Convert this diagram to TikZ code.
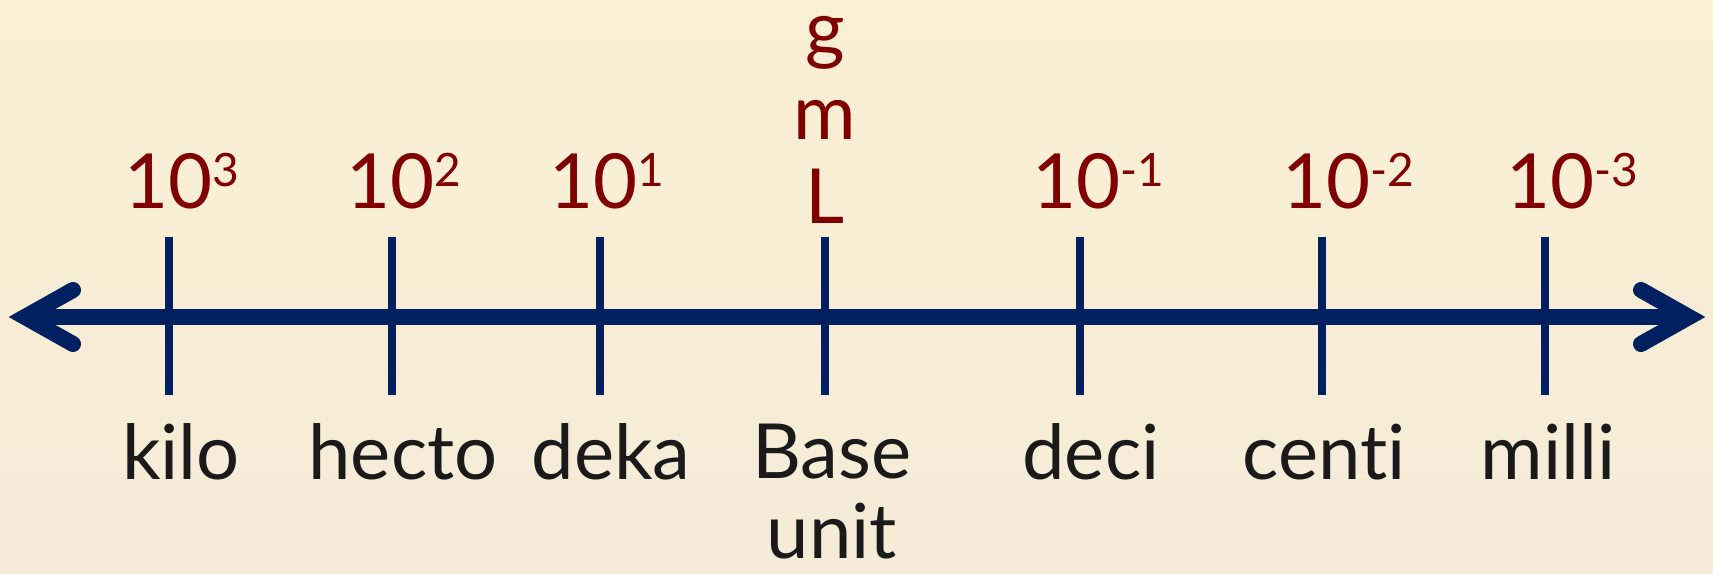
\documentclass[tikz,border=0pt]{standalone}
\usepackage{fontspec}
\setmainfont{Lato}[Ligatures=NoCommon]
\usetikzlibrary{arrows.meta}
\definecolor{navy}{HTML}{002060}
\definecolor{maroon}{HTML}{800000}
\definecolor{ink}{HTML}{1A1A1A}
\definecolor{bgtop}{RGB}{251,239,213}
\definecolor{bgbot}{RGB}{244,236,215}
\newcommand\pw[1]{\raisebox{22pt}{\fontsize{46}{46}\selectfont #1}}
\begin{document}
\begin{tikzpicture}[x=1pt,y=-1pt,
  tickline/.style={draw=navy,line width=8pt},
  axisline/.style={draw=navy,line width=16pt},
  headline/.style={draw=navy,line width=16pt,line cap=round,line join=miter},
  powlabel/.style={text=maroon,font=\fontsize{76}{84}\selectfont,inner sep=0pt},
  preflabel/.style={text=ink,font=\fontsize{76}{80}\selectfont,inner sep=0pt},
]
\shade[top color=bgtop,bottom color=bgbot] (0,0) rectangle (1713,573);
\useasboundingbox (0,0) rectangle (1713,573);
% axis
\coordinate (lv) at (25,317);
\coordinate (rv) at (1689,317);
\coordinate (lu) at (73,290);
\coordinate (ld) at (73,344);
\coordinate (ru) at (1641,290);
\coordinate (rd) at (1641,344);
\draw[axisline] (lv) -- (rv);
\draw[headline] (lu) -- (lv) -- (ld);
\draw[headline] (ru) -- (rv) -- (rd);
% ticks
\foreach \n/\x in {kilo/169,hecto/392,deka/600,base/825,deci/1080,centi/1322,milli/1545}{
  \coordinate (\n-top) at (\x,237);
  \coordinate (\n-bot) at (\x,395);
  \draw[tickline] (\n-top) -- (\n-bot);
}
% powers
\node[powlabel,anchor=base] (p3) at (182,208) {10\pw{3}};
\node[powlabel,anchor=base] (p2) at (404,208) {10\pw{2}};
\node[powlabel,anchor=base] (p1) at (607,208) {10\pw{1}};
\node[powlabel,anchor=south,align=center] (units) at (825,224) {g\\m\\L};
\node[powlabel,anchor=base] (m1) at (1098,208) {10\pw{-1}};
\node[powlabel,anchor=base] (m2) at (1348,208) {10\pw{-2}};
\node[powlabel,anchor=base] (m3) at (1572,208) {10\pw{-3}};
% prefixes
\node[preflabel,anchor=base] (lkilo) at (181,479) {kilo};
\node[preflabel,anchor=base] (lhecto) at (403,479) {hecto};
\node[preflabel,anchor=base] (ldeka) at (611,479) {deka};
\node[preflabel,anchor=south,align=center] (lbase) at (832,559) {Base\\unit};
\node[preflabel,anchor=base] (ldeci) at (1091,479) {deci};
\node[preflabel,anchor=base] (lcenti) at (1324,479) {centi};
\node[preflabel,anchor=base] (lmilli) at (1548,479) {milli};
\end{tikzpicture}
\end{document}
